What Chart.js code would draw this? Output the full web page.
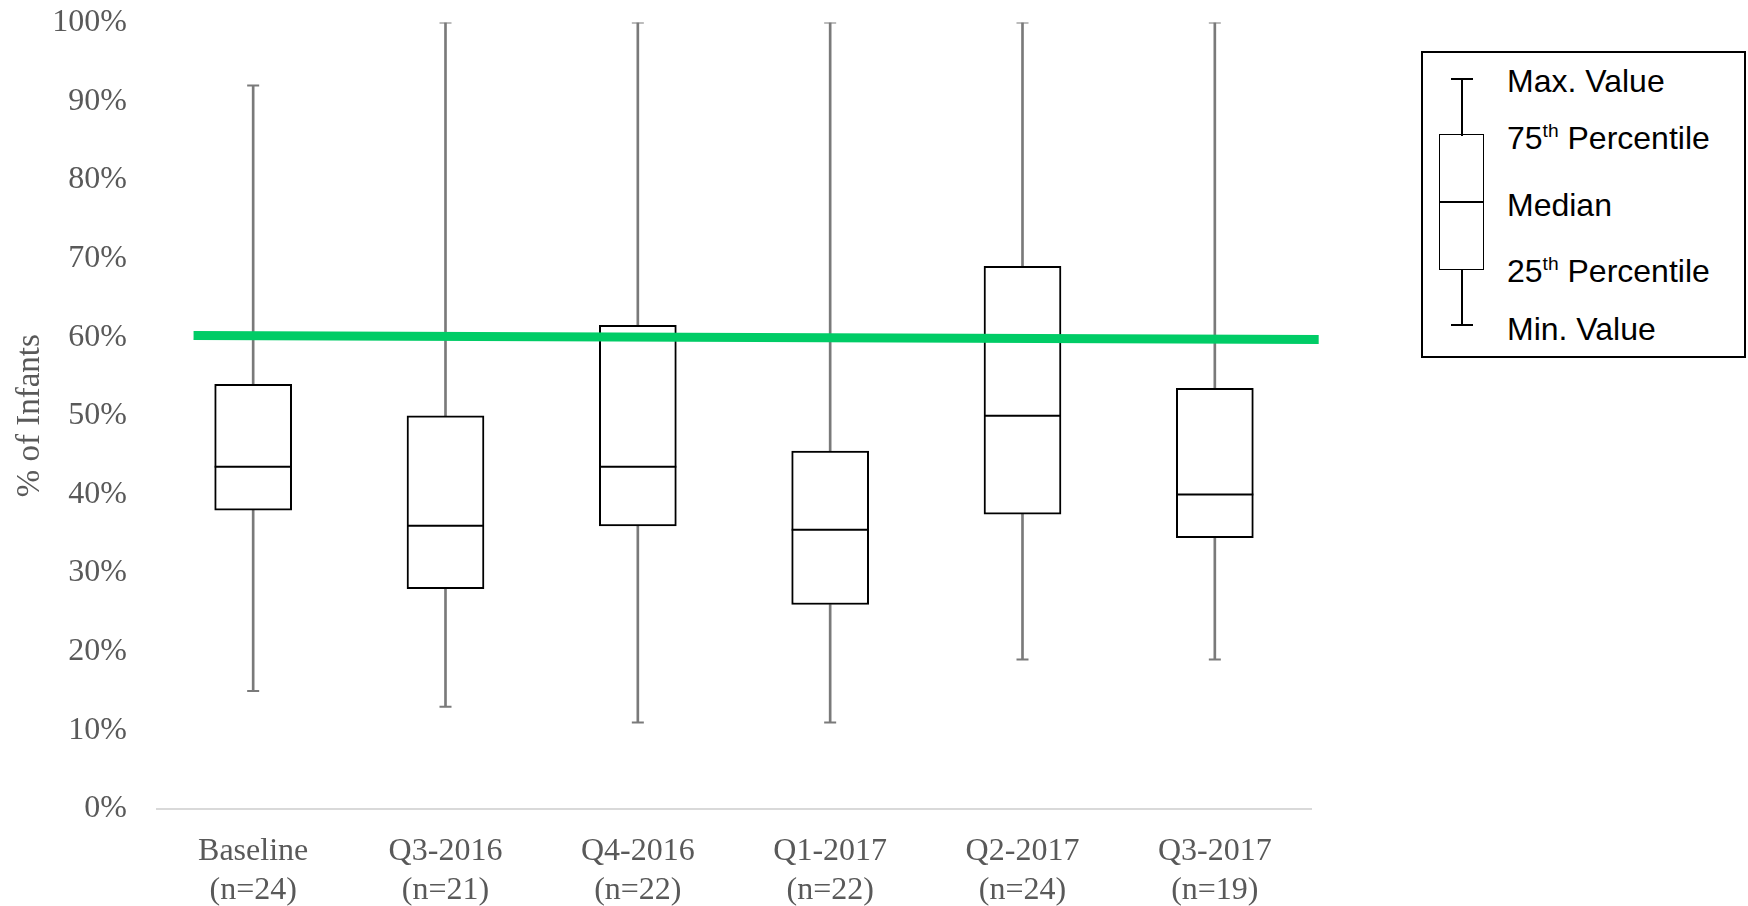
<!DOCTYPE html>
<html>
<head>
<meta charset="utf-8">
<script src="https://cdn.jsdelivr.net/npm/chart.js@4"></script>
<style>
  body { margin: 0; background: #fff; overflow: hidden; }
  #wrap { position: relative; width: 1748px; height: 906px; overflow: hidden; }
  /* the plot area comes out 18px low, so the canvas is made taller and lifted */
  #myChart { position: absolute; left: 0; top: -18px; }
  #key { position: absolute; left: 1421px; top: 51px; width: 321px; height: 303px; border: 2px solid #000; background: #fff; }
  #key div { position: absolute; background: #000; }
  #key .lbl { background: none; font-family: "Liberation Sans", Arial, sans-serif; font-size: 32px; line-height: 32px; color: #000; white-space: nowrap; left: 84px; }
  #key sup { font-size: 0.6em; line-height: 0; vertical-align: 0.6em; }
</style>
</head>
<body>
<div id="wrap">
  <canvas id="myChart" width="1748" height="924"></canvas>
  <div id="key">
    <!-- little box plot drawn as a key, coords relative to the frame -->
    <div style="left:28px; top:25px; width:22px; height:2px;"></div>
    <div style="left:38px; top:26px; width:2px; height:57px;"></div>
    <div style="left:16px; top:81px; width:45px; height:136px; background:none; border:1.5px solid #000; box-sizing:border-box;"></div>
    <div style="left:16px; top:148px; width:45px; height:1.5px;"></div>
    <div style="left:38px; top:216px; width:2px; height:57px;"></div>
    <div style="left:28px; top:271px; width:22px; height:2px;"></div>
    <span class="lbl" style="position:absolute; top:12px;">Max. Value</span>
    <span class="lbl" style="position:absolute; top:69px;">75<sup>th</sup> Percentile</span>
    <span class="lbl" style="position:absolute; top:136px;">Median</span>
    <span class="lbl" style="position:absolute; top:202px;">25<sup>th</sup> Percentile</span>
    <span class="lbl" style="position:absolute; top:260px;">Min. Value</span>
  </div>
</div>
<script>
var categories = ['Baseline', 'Q3-2016', 'Q4-2016', 'Q1-2017', 'Q2-2017', 'Q3-2017'];
var sampleSizes = [24, 21, 22, 22, 24, 19];
var minValues = [15, 13, 11, 11, 19, 19];
var q1Values = [38, 28, 36, 26, 37.5, 34.5];
var medianValues = [43.5, 36, 43.5, 35.5, 50, 40];
var q3Values = [54, 50, 61.5, 45.5, 69, 53.5];
var maxValues = [92, 100, 100, 100, 100, 100];
// green goal line, value at its left end and at its right end
var goalValues = [60.2, 59.7];

var textGray = '#595959';
var serif = 'Liberation Serif';

var labels = [];
var lowerWhisker = [];
var upperWhisker = [];
var boxes = [];
for (var i = 0; i < categories.length; i++) {
    labels.push([categories[i], '(n=' + sampleSizes[i] + ')']);
    lowerWhisker.push([minValues[i], q1Values[i]]);
    upperWhisker.push([q3Values[i], maxValues[i]]);
    boxes.push([q1Values[i], q3Values[i]]);
}

var ctx = document.getElementById('myChart').getContext('2d');
var chart = new Chart(ctx, {
    type: 'bar',
    data: {
        labels: labels,
        datasets: [{
            label: 'Lower whisker',
            data: lowerWhisker,
            backgroundColor: '#7a7a7a',
            borderWidth: 0,
            barThickness: 2,
            grouped: false,
            order: 6
        }, {
            label: 'Upper whisker',
            data: upperWhisker,
            backgroundColor: '#7a7a7a',
            borderWidth: 0,
            barThickness: 2,
            grouped: false,
            order: 6
        }, {
            label: 'Box',
            data: boxes,
            backgroundColor: '#ffffff',
            borderColor: '#000000',
            borderWidth: 2,
            borderSkipped: false,
            barThickness: 77,
            grouped: false,
            order: 4
        }, {
            type: 'line',
            label: 'Median',
            data: medianValues,
            showLine: false,
            pointStyle: 'line',
            pointRadius: 38.5,
            pointBorderColor: '#000000',
            pointBorderWidth: 2,
            order: 3
        }, {
            type: 'line',
            label: 'Max',
            data: maxValues,
            showLine: false,
            pointStyle: 'line',
            pointRadius: 6,
            pointBorderColor: '#7a7a7a',
            pointBorderWidth: 2,
            order: 5
        }, {
            type: 'line',
            label: 'Min',
            data: minValues,
            showLine: false,
            pointStyle: 'line',
            pointRadius: 6,
            pointBorderColor: '#7a7a7a',
            pointBorderWidth: 2,
            order: 5
        }, {
            type: 'line',
            label: 'Goal',
            xAxisID: 'xGoal',
            data: [{x: -0.31, y: goalValues[0]}, {x: 5.54, y: goalValues[1]}],
            borderColor: '#00cc66',
            borderWidth: 9,
            pointRadius: 0,
            clip: false,
            order: 0
        }]
    },
    options: {
        responsive: false,
        animation: false,
        events: [],
        layout: { padding: { left: 5, right: 437, top: 22, bottom: 0 } },
        plugins: {
            legend: { display: false },
            tooltip: { enabled: false }
        },
        scales: {
            x: {
                type: 'category',
                offset: true,
                grid: { display: false },
                border: { color: '#d9d9d9', width: 2 },
                ticks: {
                    autoSkip: false,
                    maxRotation: 0,
                    padding: 15,
                    color: textGray,
                    font: { family: serif, size: 32, lineHeight: 1.23 }
                },
                afterFit: function(scale) { scale.height = 97; }
            },
            xGoal: {
                type: 'linear',
                display: false,
                offset: false,
                min: -0.5,
                max: 5.5
            },
            y: {
                min: 0,
                max: 100,
                // tick marks are not drawn, the tick length only makes the gap before the labels
                grid: { display: false, drawTicks: true, tickLength: 30 },
                border: { display: false },
                ticks: {
                    stepSize: 10,
                    padding: 0,
                    color: textGray,
                    font: { family: serif, size: 32 },
                    callback: function(v) { return v + '%'; }
                },
                title: {
                    display: true,
                    text: '% of Infants',
                    color: textGray,
                    font: { family: serif, size: 33 },
                    padding: { top: 6, bottom: 0 }
                },
                afterFit: function(scale) { scale.width = 152; }
            }
        }
    }
});
</script>
</body>
</html>
